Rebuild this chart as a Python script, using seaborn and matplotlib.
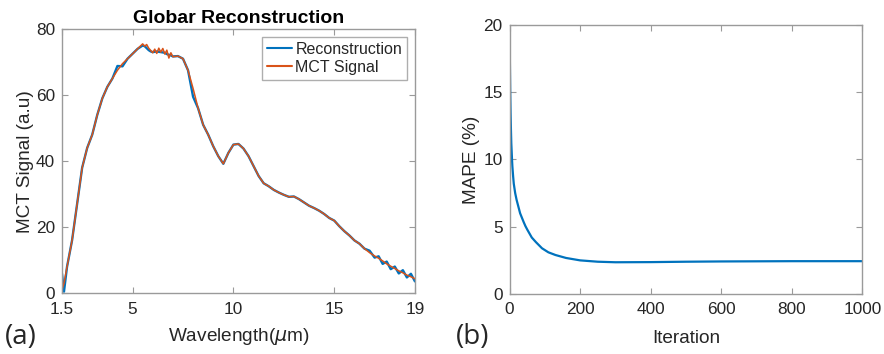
import pandas as pd
import matplotlib
matplotlib.use('Agg')
import matplotlib.pyplot as plt
import seaborn as sns

# (a) Globar spectrum: wavelength (um), measured MCT signal, reconstruction
wavelength = [1.5, 1.6, 1.75, 2.0, 2.25, 2.5, 2.75, 3.0, 3.25, 3.5, 3.75, 4.0, 4.25, 4.5,
              4.75, 5.0, 5.25, 5.5, 5.6, 5.7, 5.8, 5.9, 6.0, 6.1, 6.2, 6.3, 6.4, 6.5, 6.6,
              6.7, 6.8, 6.9, 7.0, 7.25, 7.5, 7.75, 8.0, 8.25, 8.5, 8.75, 9.0, 9.25, 9.5,
              9.75, 10.0, 10.25, 10.5, 10.75, 11.0, 11.25, 11.5, 11.75, 12.0, 12.25, 12.5,
              12.75, 13.0, 13.25, 13.5, 13.75, 14.0, 14.25, 14.5, 14.75, 15.0, 15.25, 15.5,
              15.75, 16.0, 16.25, 16.5, 16.75, 17.0, 17.2, 17.4, 17.6, 17.8, 18.0, 18.2,
              18.4, 18.6, 18.8, 19.0]
mct_signal = [1.0, 3.0, 8.0, 16.0, 27.0, 38.0, 44.0, 48.0, 54.0, 59.0, 62.5, 65.0, 67.5, 69.5,
              71.0, 72.5, 74.0, 75.5, 74.8, 75.3, 74.2, 73.5, 72.8, 73.9, 72.6, 74.2, 73.0,
              74.1, 72.4, 73.6, 71.2, 72.8, 71.6, 71.8, 71.0, 67.5, 62.0, 56.0, 51.0, 48.0,
              44.5, 41.5, 39.2, 42.5, 45.0, 45.2, 43.8, 41.5, 38.5, 35.5, 33.3, 32.4, 31.3,
              30.5, 29.8, 29.2, 29.3, 28.5, 27.5, 26.5, 25.8, 25.0, 24.0, 22.8, 22.0, 20.3,
              18.8, 17.5, 16.0, 15.0, 13.5, 12.3, 11.3, 10.6, 9.8, 8.9, 8.2, 7.5, 6.8, 6.2,
              5.5, 5.0, 4.4]
reconstruction = [6.0, 0.5, 8.0, 16.0, 27.0, 38.0, 44.0, 48.0, 54.0, 59.0, 62.5, 65.0, 68.8,
                  68.7, 71.0, 72.5, 74.0, 75.0, 74.8, 74.2, 73.6, 73.2, 73.0, 73.1, 73.2,
                  73.1, 73.0, 72.9, 72.8, 72.4, 72.2, 72.0, 71.7, 71.8, 71.0, 67.5, 59.5,
                  56.0, 51.0, 48.0, 44.5, 41.5, 39.2, 42.5, 45.0, 45.2, 43.8, 41.5, 38.5,
                  35.5, 33.3, 32.4, 31.3, 30.5, 29.8, 29.2, 29.3, 28.5, 27.5, 26.5, 25.8,
                  25.0, 24.0, 22.8, 22.0, 20.3, 18.8, 17.5, 16.0, 15.0, 13.5, 12.9, 10.8,
                  11.2, 8.9, 9.6, 7.3, 8.1, 6.0, 7.0, 4.8, 5.9, 3.6]

# (b) convergence of the reconstruction
iteration = [0, 1, 2, 3, 4, 5, 7, 8, 10, 12, 16, 20, 25, 30, 40, 45, 50, 63, 75, 92, 110,
             130, 160, 200, 250, 300, 400, 500, 600, 700, 800, 900, 1000]
mape = [20.0, 17.2, 15.0, 13.4, 12.2, 11.2, 10.0, 9.5, 8.8, 8.2, 7.5, 7.0, 6.5, 6.0, 5.35,
        5.05, 4.8, 4.2, 3.85, 3.4, 3.1, 2.9, 2.68, 2.5, 2.4, 2.36, 2.37, 2.4, 2.42, 2.43,
        2.44, 2.44, 2.44]

spec = pd.DataFrame({'wl': wavelength, 'sig': mct_signal, 'rec': reconstruction})
conv = pd.DataFrame({'it': iteration, 'mape': mape})

sns.set_theme(style='white')
plt.rcParams['font.family'] = ['Liberation Sans', 'DejaVu Sans']

blue = '#0072BD'
orange = '#D95319'
frame = '#9a9a9a'
txt = '#262626'

fig = plt.figure(figsize=(8.84, 3.54), dpi=100)
ax1 = fig.add_axes([0.0701, 0.1715, 0.3993, 0.7466])
ax2 = fig.add_axes([0.5764, 0.1695, 0.3991, 0.7599])

sns.lineplot(data=spec, x='wl', y='rec', ax=ax1, color=blue, lw=1.7, label='Reconstruction')
sns.lineplot(data=spec, x='wl', y='sig', ax=ax1, color=orange, lw=1.1, label='MCT Signal')
sns.lineplot(data=conv, x='it', y='mape', ax=ax2, color=blue, lw=1.6)

ax1.set_xlim(1.5, 19)
ax1.set_ylim(0, 80)
ax1.set_xticks([1.5, 5, 10, 15, 19])
ax1.set_xticklabels(['1.5', '5', '10', '15', '19'])
ax1.set_yticks([0, 20, 40, 60, 80])
ax1.set_title('Globar Reconstruction', fontsize=14, fontweight='bold', color='black', pad=4)
ax1.set_xlabel(r'Wavelength($\mu$m)', fontsize=13.7, color=txt)
ax1.set_ylabel('MCT Signal (a.u)', fontsize=13.7, color=txt)
ax1.xaxis.set_label_coords(0.5, -0.125)
ax1.yaxis.set_label_coords(-0.08, 0.5)

ax2.set_xlim(0, 1000)
ax2.set_ylim(0, 20)
ax2.set_xticks([0, 200, 400, 600, 800, 1000])
ax2.set_yticks([0, 5, 10, 15, 20])
ax2.set_xlabel('Iteration', fontsize=13.7, color=txt)
ax2.set_ylabel('MAPE (%)', fontsize=13.7, color=txt)
ax2.xaxis.set_label_coords(0.5, -0.132)
ax2.yaxis.set_label_coords(-0.084, 0.5)

for ax in (ax1, ax2):
    for s in ax.spines.values():
        s.set_visible(True)
        s.set_color(frame)
        s.set_linewidth(1.0)
    ax.tick_params(direction='in', length=4, width=0.8, color=frame, labelsize=12.4,
                   labelcolor=txt, top=True, right=True, bottom=True, left=True)
    ax.tick_params(axis='x', pad=6)
    ax.tick_params(axis='y', pad=5)

leg = ax1.legend(loc='upper right', fontsize=11.5, frameon=True, fancybox=False,
                 handlelength=1.6, handletextpad=0.2, borderpad=0.3, labelspacing=0.2,
                 borderaxespad=0.5)
leg.get_frame().set_edgecolor(frame)
leg.get_frame().set_linewidth(1.0)
for line in leg.get_lines():
    line.set_linewidth(1.5)

fig.text(0.006, 0.048, '(a)', fontsize=20, family=['Open Sans', 'DejaVu Sans'], va='center')
fig.text(0.516, 0.048, '(b)', fontsize=20, family=['Open Sans', 'DejaVu Sans'], va='center')

fig.savefig('out.png', dpi=100)
